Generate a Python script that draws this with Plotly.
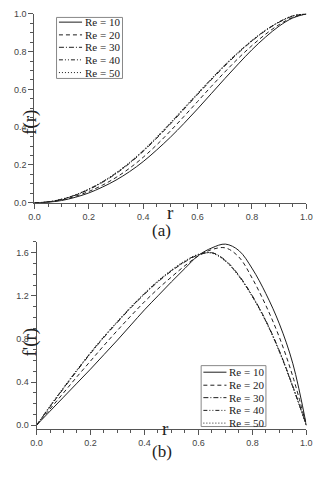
import plotly.graph_objects as go

r = [0.0, 0.05, 0.1, 0.15, 0.2, 0.25, 0.3, 0.35, 0.4, 0.45, 0.5,
     0.55, 0.6, 0.65, 0.7, 0.75, 0.8, 0.85, 0.9, 0.95, 1.0]

labels = ["Re = 10", "Re = 20", "Re = 30", "Re = 40", "Re = 50"]

# f(r)
f_re10 = [0, 0.003, 0.012, 0.029, 0.052, 0.083, 0.12, 0.165, 0.218, 0.28, 0.347,
          0.42, 0.497, 0.577, 0.657, 0.735, 0.81, 0.877, 0.935, 0.978, 1.0]
f_re20 = [0, 0.004, 0.015, 0.034, 0.06, 0.093, 0.134, 0.183, 0.241, 0.307, 0.38,
          0.457, 0.536, 0.615, 0.692, 0.765, 0.832, 0.892, 0.943, 0.981, 1.0]
f_re30 = [0, 0.005, 0.018, 0.04, 0.07, 0.108, 0.154, 0.209, 0.272, 0.342, 0.417,
          0.495, 0.573, 0.65, 0.724, 0.793, 0.856, 0.911, 0.956, 0.988, 1.0]
f_re40 = [0, 0.005, 0.019, 0.041, 0.072, 0.11, 0.157, 0.212, 0.275, 0.346, 0.421,
          0.499, 0.577, 0.654, 0.728, 0.796, 0.858, 0.913, 0.957, 0.989, 1.0]
f_re50 = [0, 0.005, 0.019, 0.042, 0.073, 0.112, 0.159, 0.214, 0.278, 0.349, 0.424,
          0.502, 0.58, 0.656, 0.73, 0.798, 0.86, 0.914, 0.958, 0.989, 1.0]

# f'(r)
fp_re10 = [0, 0.13, 0.26, 0.39, 0.52, 0.655, 0.79, 0.93, 1.07, 1.20, 1.33,
           1.455, 1.575, 1.645, 1.68, 1.62, 1.45, 1.22, 0.94, 0.57, 0]
fp_re20 = [0, 0.15, 0.30, 0.45, 0.595, 0.74, 0.88, 1.015, 1.145, 1.265, 1.375,
           1.48, 1.57, 1.63, 1.645, 1.56, 1.36, 1.11, 0.815, 0.45, 0]
fp_re30 = [0, 0.17, 0.34, 0.505, 0.665, 0.815, 0.955, 1.09, 1.215, 1.33, 1.43,
           1.515, 1.58, 1.60, 1.53, 1.39, 1.20, 0.97, 0.69, 0.36, 0]
fp_re40 = [0, 0.175, 0.345, 0.51, 0.67, 0.82, 0.96, 1.095, 1.22, 1.335, 1.435,
           1.52, 1.585, 1.60, 1.525, 1.385, 1.195, 0.965, 0.685, 0.355, 0]
fp_re50 = [0, 0.18, 0.35, 0.515, 0.675, 0.825, 0.965, 1.10, 1.225, 1.34, 1.44,
           1.525, 1.585, 1.595, 1.52, 1.38, 1.19, 0.96, 0.68, 0.35, 0]

f_series = [f_re10, f_re20, f_re30, f_re40, f_re50]
fp_series = [fp_re10, fp_re20, fp_re30, fp_re40, fp_re50]

dashes = ["solid", "4px,3px", "5px,2px,1px,2px", "4px,2px,1px,2px,1px,2px", "1px,2px"]
line_color = "#1e1e1e"
serif = "Liberation Serif"

fig = go.Figure()
for lab, ys, d in zip(labels, f_series, dashes):
    fig.add_trace(go.Scatter(x=r, y=ys, mode="lines", name=lab, showlegend=False,
                             hoverinfo="skip",
                             line=dict(color=line_color, width=1, dash=d, shape="spline",
                                       smoothing=1),
                             xaxis="x", yaxis="y"))
for lab, ys, d in zip(labels, fp_series, dashes):
    fig.add_trace(go.Scatter(x=r, y=ys, mode="lines", name=lab, showlegend=False,
                             hoverinfo="skip",
                             line=dict(color=line_color, width=1, dash=d, shape="spline",
                                       smoothing=1),
                             xaxis="x2", yaxis="y2"))

W, H = 322, 480


def px(x):
    return x / W


def py(y):
    return 1 - y / H


axc = "#555"
tickfont = dict(family="Liberation Sans", size=9, color="#444")
base_axis = dict(showline=True, linecolor=axc, linewidth=1, mirror=False,
                 ticks="outside", ticklen=5, tickcolor=axc, showgrid=False,
                 zeroline=False, tickfont=tickfont, tickformat=".1f",
                 minor=dict(ticks="outside", ticklen=3, tickcolor=axc))
mirror_axis = dict(showline=True, linecolor=axc, linewidth=1,
                   ticks="inside", ticklen=4, tickcolor=axc, showgrid=False,
                   zeroline=False, showticklabels=False,
                   minor=dict(ticks="inside", ticklen=2, tickcolor=axc))

shapes = []
annotations = []


def add_legend(x0, x1, y0, y1, row_y, line_x0, line_x1, text_x):
    shapes.append(dict(type="rect", xref="paper", yref="paper",
                       x0=px(x0), x1=px(x1), y0=py(y1), y1=py(y0),
                       line=dict(color="#888", width=1), fillcolor="white", layer="above"))
    for i, (lab, d) in enumerate(zip(labels, dashes)):
        yy = row_y[i]
        shapes.append(dict(type="line", xref="paper", yref="paper",
                           x0=px(line_x0), x1=px(line_x1), y0=py(yy), y1=py(yy),
                           line=dict(color=line_color, width=1, dash=d), layer="above"))
        annotations.append(dict(text=lab, x=px(text_x), y=py(yy), xref="paper", yref="paper",
                                xanchor="left", yanchor="middle", showarrow=False,
                                borderpad=0,
                                font=dict(family=serif, size=11, color="#222")))


add_legend(52.5, 121, 12.7, 75, [17.5, 30.5, 43.2, 56.0, 69.0], 55, 79, 81)
add_legend(202.7, 270, 368.3, 430.5, [375.0, 388.3, 401.0, 414.0, 427.0], 205, 229, 231)

annotations += [
    dict(text="f(r)", x=px(12), y=py(105), xref="paper", yref="paper",
         textangle=-90, showarrow=False, font=dict(family=serif, size=19, color="#222")),
    dict(text="r", x=px(171), y=py(212), xref="paper", yref="paper",
         showarrow=False, font=dict(family=serif, size=19, color="#222")),
    dict(text="(a)", x=px(161), y=py(230), xref="paper", yref="paper",
         showarrow=False, font=dict(family=serif, size=17, color="#222")),
    dict(text="f'(r)", x=px(11), y=py(361), xref="paper", yref="paper",
         textangle=-90, showarrow=False, font=dict(family=serif, size=19, color="#222")),
    dict(text="r", x=px(166), y=py(445), xref="paper", yref="paper",
         showarrow=False, font=dict(family=serif, size=19, color="#222")),
    dict(text="(b)", x=px(162), y=py(468), xref="paper", yref="paper",
         showarrow=False, font=dict(family=serif, size=17, color="#222")),
]

xt = [px(29.5), px(312)]
xb = [px(31.7), px(312)]
yt = [py(202), py(9)]
yb = [py(433), py(242)]
rng_top = [0, 1]
rng_bot = [-0.035, 1.7]

fig.update_layout(
    width=W, height=H,
    margin=dict(l=0, r=0, t=0, b=0),
    paper_bgcolor="white", plot_bgcolor="white",
    hovermode=False,
    # top panel
    xaxis=dict(domain=xt, range=[0, 1], dtick=0.2, anchor="y", **base_axis),
    yaxis=dict(domain=yt, range=rng_top, dtick=0.2, anchor="x", **base_axis),
    xaxis3=dict(range=[0, 1], dtick=0.2, overlaying="x", side="top", anchor="y", **mirror_axis),
    yaxis3=dict(range=rng_top, dtick=0.2, overlaying="y", side="right", anchor="x", **mirror_axis),
    # bottom panel
    xaxis2=dict(domain=xb, range=[0, 1], dtick=0.2, anchor="y2", **base_axis),
    yaxis2=dict(domain=yb, range=rng_bot, tick0=0, dtick=0.4, anchor="x2", **base_axis),
    xaxis4=dict(range=[0, 1], dtick=0.2, overlaying="x2", side="top", anchor="y2", **mirror_axis),
    yaxis4=dict(range=rng_bot, tick0=0, dtick=0.4, overlaying="y2", side="right", anchor="x2",
                **mirror_axis),
    showlegend=False,
    shapes=shapes,
    annotations=annotations,
)

# remove the default 8px page margin so the figure sits at the window's top-left corner
fig.write_html("out.html", config={"displayModeBar": False, "staticPlot": True},
               post_script="document.body.style.margin='0';")
